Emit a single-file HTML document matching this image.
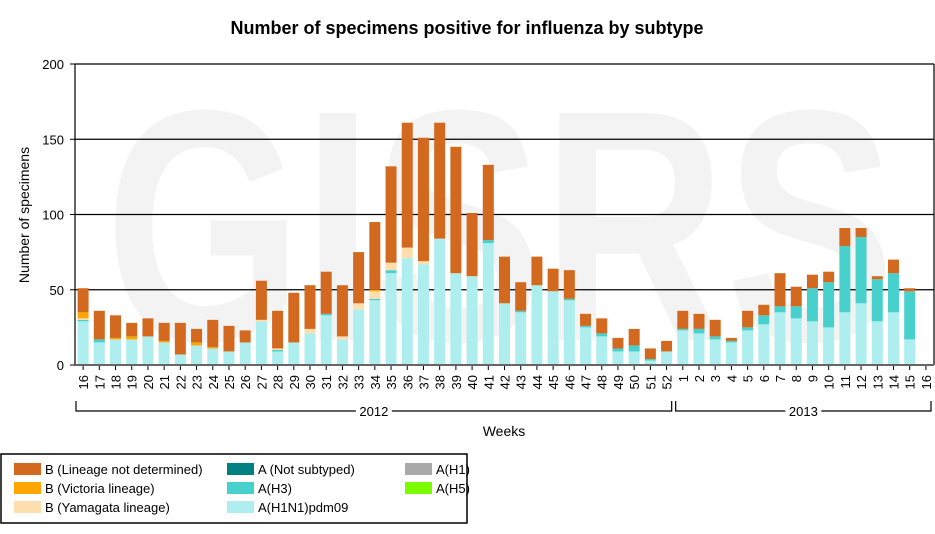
<!DOCTYPE html>
<html><head><meta charset="utf-8"><style>
body{margin:0;background:#fff;font-family:"Liberation Sans",Arial,sans-serif}
svg text{font-family:"Liberation Sans",Arial,sans-serif}
</style></head><body>
<svg id="chart" width="935" height="529" xmlns="http://www.w3.org/2000/svg">
<text x="500" y="340" text-anchor="middle" font-size="330" font-weight="bold" fill="#f3f3f3" textLength="790" lengthAdjust="spacingAndGlyphs">GISRS</text>
<text x="467" y="34" text-anchor="middle" font-size="18" font-weight="bold" fill="#000">Number of specimens positive for influenza by subtype</text>
<g id="grid"></g>
<g id="bars"></g>
<g id="axes"></g>
<text transform="translate(29,215) rotate(-90)" text-anchor="middle" font-size="14">Number of specimens</text>
<text x="504" y="436" text-anchor="middle" font-size="14">Weeks</text>
<g>
<rect x="1" y="454" width="466" height="69" fill="#fff" stroke="#000" stroke-width="1.5"/>
<rect x="14" y="463" width="27" height="12" fill="#d2691e"/>
<text x="45" y="474" font-size="13">B (Lineage not determined)</text>
<rect x="14" y="482" width="27" height="12" fill="#ffa500"/>
<text x="45" y="493" font-size="13">B (Victoria lineage)</text>
<rect x="14" y="501" width="27" height="12" fill="#ffdead"/>
<text x="45" y="512" font-size="13">B (Yamagata lineage)</text>
<rect x="227" y="463" width="27" height="12" fill="#008080"/>
<text x="258" y="474" font-size="13">A (Not subtyped)</text>
<rect x="227" y="482" width="27" height="12" fill="#48d1cc"/>
<text x="258" y="493" font-size="13">A(H3)</text>
<rect x="227" y="501" width="27" height="12" fill="#afeeee"/>
<text x="258" y="512" font-size="13">A(H1N1)pdm09</text>
<rect x="405" y="463" width="27" height="12" fill="#a9a9a9"/>
<text x="436" y="474" font-size="13">A(H1)</text>
<rect x="405" y="482" width="27" height="12" fill="#7cfc00"/>
<text x="436" y="493" font-size="13">A(H5)</text>
</g>
</svg>
<script>
const weeks = [16,17,18,19,20,21,22,23,24,25,26,27,28,29,30,31,32,33,34,35,36,37,38,39,40,41,42,43,44,45,46,47,48,49,50,51,52,1,2,3,4,5,6,7,8,9,10,11,12,13,14,15,16];
const h1n1 = [29,15,17,17,19,15,7,13,11,9,15,29,9,15,21,33,17,37,43,61,71,67,84,61,59,81,41,35,53,49,43,25,19,9,9,3,9,23,21,17,15,23,27,35,31,29,25,35,41,29,35,17,0];
const h3   = [1,2,0,0,0,0,0,0,0,0,0,0,1,0,0,1,0,0,1,2,0,0,0,0,0,2,0,1,0,0,1,1,2,2,4,1,0,1,3,2,1,2,6,4,8,22,30,44,44,28,26,32,0];
const yam  = [1,0,0,0,0,0,0,0,0,0,0,1,1,0,3,0,2,4,5,5,7,2,0,0,0,0,0,0,0,0,0,0,0,0,0,0,0,0,0,0,0,0,0,0,0,0,0,0,0,0,0,0,0];
const vic  = [4,0,1,2,0,1,0,2,1,0,0,0,0,0,0,0,0,0,1,0,0,0,0,0,0,0,0,0,0,0,0,0,0,0,0,0,0,0,0,0,0,0,0,0,0,0,0,0,0,0,0,0,0];
const bund = [16,19,15,9,12,12,21,9,18,17,8,26,25,33,29,28,34,34,45,64,83,82,77,84,42,50,31,19,19,15,19,8,10,7,11,7,7,12,10,11,2,11,7,22,13,9,7,12,6,2,9,2,0];
const yTicks = [0,50,100,150,200];
const years = [{label:"2012",from:0,to:36},{label:"2013",from:37,to:52}];

const NS="http://www.w3.org/2000/svg";
const X0=75,X1=934,Y0=365,Y1=64,YMAX=200;
const step=(X1-X0)/weeks.length;
const xc=i=>X0+step*(i+0.5);
const yv=v=>Y0-(v/YMAX)*(Y0-Y1);
function mk(tag,attrs,parent){const e=document.createElementNS(NS,tag);for(const k in attrs)e.setAttribute(k,attrs[k]);parent.appendChild(e);return e;}
const grid=document.getElementById('grid'),bars=document.getElementById('bars'),axes=document.getElementById('axes');
yTicks.forEach(t=>{
  if(t>0){const l=mk('line',{x1:X0,x2:X1,y1:yv(t),y2:yv(t),stroke:'#000','stroke-width':1.2},grid);
  
  }
  const tx=mk('text',{x:X0-11,y:yv(t)+5,'text-anchor':'end','font-size':13},axes);tx.textContent=t;
  
  
  mk('line',{x1:X0-5,x2:X0,y1:yv(t),y2:yv(t),stroke:'#000'},axes);
});
mk('line',{x1:X1,x2:X1,y1:Y1,y2:Y0,stroke:'#000','stroke-width':1.2},grid);
const series=[[h1n1,'#afeeee','h1n1'],[h3,'#48d1cc','h3'],[yam,'#ffdead','yamagata'],[vic,'#ffa500','victoria'],[bund,'#d2691e','b-undetermined']];
const bw=11;
weeks.forEach((w,i)=>{
  let acc=0;
  series.forEach(([arr,col,nm])=>{
    const v=arr[i]; if(v<=0)return;
    const r=mk('rect',{x:xc(i)-bw/2,y:yv(acc+v),width:bw,height:yv(acc)-yv(acc+v),fill:col},bars);
    
    
    acc+=v;
  });
  mk('line',{x1:xc(i),x2:xc(i),y1:Y0,y2:Y0+5,stroke:'#000'},axes);
  const t=mk('text',{transform:`translate(${xc(i)+5},${Y0+10}) rotate(-90)`,'text-anchor':'end','font-size':13},axes);
  t.textContent=w;
  
  
});
mk('line',{x1:X0,x2:X0,y1:Y1,y2:Y0,stroke:'#000','stroke-width':1.2},axes);
mk('line',{x1:X0,x2:X1,y1:Y0,y2:Y0,stroke:'#666','stroke-width':2},axes);
years.forEach(yr=>{
  const a=X0+step*yr.from+1,b=X0+step*(yr.to+1)-3;
  mk('path',{d:`M${a},401 V411 H${b} V401`,fill:'none',stroke:'#000','stroke-width':1.2},axes);
  const t=mk('text',{x:(a+b)/2,y:416,'text-anchor':'middle','font-size':13},axes);
  t.textContent=yr.label;
  
  
  mk('rect',{x:(a+b)/2-18,y:404,width:36,height:14,fill:'#fff'},axes).parentNode.insertBefore(axes.lastChild,t);
});
</script>
</body></html>
